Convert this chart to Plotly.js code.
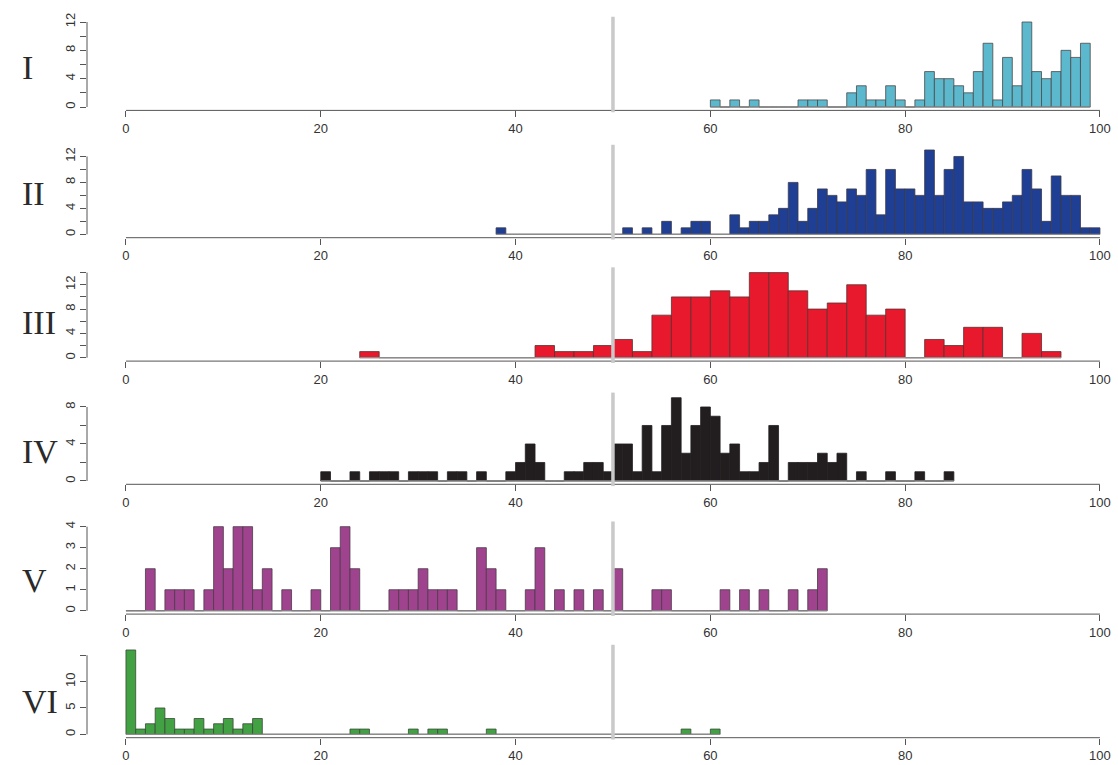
<!DOCTYPE html>
<html><head><meta charset="utf-8">
<script src="https://cdn.plot.ly/plotly-3.0.1.min.js"></script>
<style>html,body{margin:0;padding:0;background:#fff}#chart{width:1118px;height:765px}</style>
</head><body><div id="chart"></div>
<script>
// ---------- data ----------
const panelNames = ['I', 'II', 'III', 'IV', 'V', 'VI'];
const binStart = [60, 38, 24, 20, 0, 0];
const binWidth = [1, 1, 2, 1, 1, 1];

const countsI = [1,0,1,0,1,0,0,0,0,1, 1,1,0,0,2,3,1,1,3,1, 0,1,5,4,4,3,2,5,9,1, 7,3,12,5,4,5,8,7,9];
const countsII = [1,0, 0,0,0,0,0,0,0,0,0,0, 0,1,0,1,0,2,0,1,2,2, 0,0,3,1,2,2,3,4,8,2, 4,7,6,5,7,6,10,3,10,7, 7,6,13,6,10,12,5,5,4,4, 5,6,10,7,2,9,6,6,1,1];
const countsIII = [1,0,0,0,0,0,0,0,0, 2,1,1,2,3,1,7,10,10,11,10,14,14,11,8,9,12,7,8,0,3,2,5,5,0,4,1];
const countsIV = [1,0,0,1,0,1,1,1,0,1, 1,1,0,1,1,0,1,0,0,1, 2,4,2,0,0,1,1,2,2,1, 4,4,1,6,1,6,9,3,6,8, 7,3,4,1,1,2,6,0,2,2, 2,3,2,3,0,1,0,0,1,0, 0,1,0,0,1];
const countsV = [0,0,2,0,1,1,1,0,1,4, 2,4,4,1,2,0,1,0,0,1, 0,3,4,2,0,0,0,1,1,1, 2,1,1,1,0,0,3,2,1,0, 0,1,3,0,1,0,1,0,1,0, 2,0,0,0,1,1,0,0,0,0, 0,1,0,1,0,1,0,0,1,0, 1,2];
const countsVI = [16,1,2,5,3,1,1,3,1,2, 3,1,2,3,0,0,0,0,0,0, 0,0,0,1,1,0,0,0,0,1, 0,1,1,0,0,0,0,1,0,0, 0,0,0,0,0,0,0,0,0,0, 0,0,0,0,0,0,0,1,0,0, 1];
const allCounts = [countsI, countsII, countsIII, countsIV, countsV, countsVI];

const xTickVals = [0, 20, 40, 60, 80, 100];
const xTickText = ['0', '20', '40', '60', '80', '100'];
const yTickVals = [
  [0,2,4,6,8,10,12],
  [0,2,4,6,8,10,12],
  [0,2,4,6,8,10,12,14],
  [0,2,4,6,8],
  [0,1,2,3,4],
  [0,5,10,15]
];
const yTickText = [
  ['0','','4','','8','','12'],
  ['0','','4','','8','','12'],
  ['0','','4','','8','','12',''],
  ['0','','4','','8'],
  ['0','1','2','3','4'],
  ['0','5','10','']
];
const thresholdX = 50;

// ---------- style ----------
const barColors = ['#5cb8cd', '#1f3f95', '#e8192c', '#221e1f', '#a0438e', '#42a142'];
const borderColors = ['#4a4a4a', '#3a3a4a', '#5a3030', '#221e1f', '#4a3a48', '#3a4a3a'];
// pixel rows of each panel's plot region (top, bottom)
const regionPx = [[18.6, 110.4], [146.6, 237.7], [269.2, 361.1], [394.4, 484.3], [523.3, 614.1], [646.6, 737.7]];
const labelYpx = [67, 193, 322, 451, 580, 701];
const H = 765, W = 1118, L = 87;
const xRange = [-4, -4 + (W - L) / 9.74];

const traces = [];
const layout = {
  width: W, height: H,
  margin: {l: L, r: 0, t: 0, b: 0},
  paper_bgcolor: '#ffffff', plot_bgcolor: '#ffffff',
  showlegend: false, bargap: 0,
  font: {family: 'Liberation Sans, Arial, sans-serif', size: 13, color: '#333333'},
  shapes: [], annotations: []
};

allCounts.forEach((counts, k) => {
  const n = k + 1;
  const xa = 'x' + (n === 1 ? '' : n), ya = 'y' + (n === 1 ? '' : n);
  const xKey = 'xaxis' + (n === 1 ? '' : n), yKey = 'yaxis' + (n === 1 ? '' : n);
  const edges = counts.map((c, i) => binStart[k] + i * binWidth[k]);
  const maxC = Math.max(...counts);
  const lastEdge = binStart[k] + counts.length * binWidth[k];

  // zero-count baseline (outline of empty bins)
  traces.push({
    type: 'scatter', mode: 'lines', xaxis: xa, yaxis: ya,
    x: [binStart[k], lastEdge], y: [0, 0],
    line: {color: '#8c8c8c', width: 1.2}, hoverinfo: 'skip'
  });
  traces.push({
    type: 'bar', xaxis: xa, yaxis: ya,
    x: edges, y: counts, offset: 0, width: binWidth[k],
    marker: {color: barColors[k], line: {color: borderColors[k], width: 0.8}},
    hoverinfo: 'x+y'
  });

  const dom = [1 - regionPx[k][1] / H, 1 - regionPx[k][0] / H];
  layout[xKey] = {
    domain: [0, 1], anchor: ya, range: xRange,
    tickvals: xTickVals, ticktext: xTickText,
    ticks: 'outside', ticklen: 6, tickcolor: '#555555', tickwidth: 1,
    showline: false, showgrid: false, zeroline: false, automargin: false,
    tickfont: {size: 13, color: '#333333'}
  };
  layout[yKey] = {
    domain: dom, anchor: xa, range: [-0.04 * maxC, 1.04 * maxC],
    tickvals: yTickVals[k], ticktext: yTickText[k], tickangle: -90,
    ticks: 'outside', ticklen: 6, tickcolor: '#555555', tickwidth: 1,
    showline: false, showgrid: false, zeroline: false, automargin: false,
    tickfont: {size: 13, color: '#333333'}
  };
  const yt = yTickVals[k];
  // R-style axis lines spanning first..last tick
  layout.shapes.push({type: 'line', xref: xa, yref: ya + ' domain', x0: xTickVals[0], x1: xTickVals[xTickVals.length - 1], y0: 0, y1: 0, line: {color: '#555555', width: 1}});
  layout.shapes.push({type: 'line', xref: xa + ' domain', yref: ya, x0: 0, x1: 0, y0: yt[0], y1: yt[yt.length - 1], line: {color: '#555555', width: 1}});
  // threshold line
  layout.shapes.push({type: 'line', layer: 'above', xref: xa, yref: ya + ' domain', x0: thresholdX, x1: thresholdX, y0: -0.02, y1: 1.02, line: {color: '#c9c9c9', width: 3.5}});

  layout.annotations.push({
    text: panelNames[k], xref: 'paper', yref: 'paper',
    x: (20 - L) / (W - L), xanchor: 'left',
    y: 1 - labelYpx[k] / H, yanchor: 'middle',
    showarrow: false,
    font: {family: 'Liberation Serif, Times New Roman, serif', size: 34, color: '#2a2a2a'}
  });
});

Plotly.newPlot('chart', traces, layout, {displayModeBar: false, staticPlot: true});
</script>
</body></html>
